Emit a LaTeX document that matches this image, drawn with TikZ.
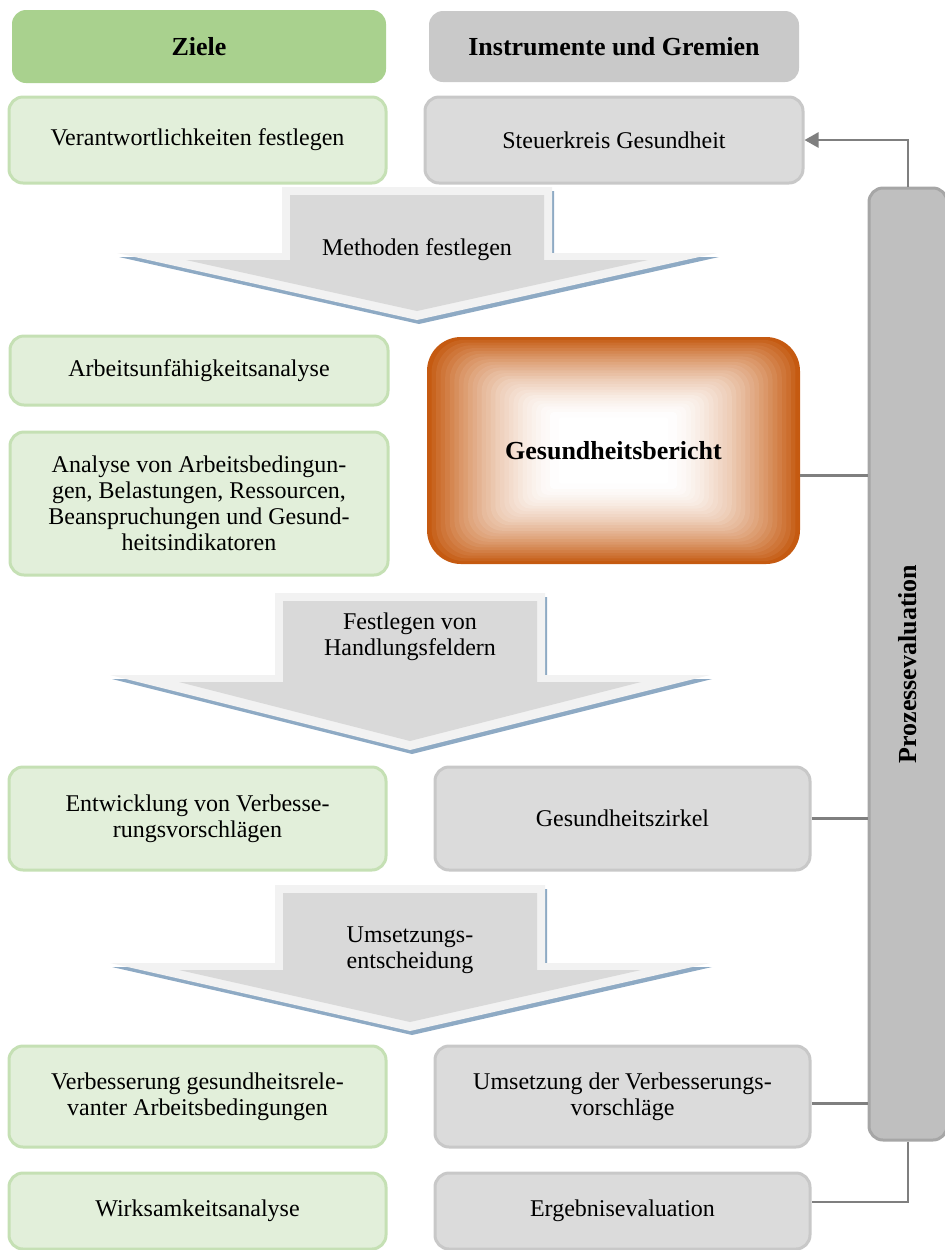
\documentclass[tikz,border=0pt]{standalone}
\usepackage{fontspec}
\setmainfont{Liberation Serif}
\usetikzlibrary{arrows.meta}

\definecolor{zielgruen}{HTML}{A9D18E}
\definecolor{hellgruen}{HTML}{E2EFDA}
\definecolor{randgruen}{HTML}{C5E0B4}
\definecolor{kopfgrau}{HTML}{C9C9C9}
\definecolor{hellgrau}{HTML}{DBDBDB}
\definecolor{randgrau}{HTML}{C8C8C8}
\definecolor{prozgrau}{HTML}{BFBFBF}
\definecolor{prozrand}{HTML}{A6A6A6}
\definecolor{linie}{HTML}{7F7F7F}
\definecolor{pfeilgrau}{HTML}{D9D9D9}
\definecolor{pfeilhell}{HTML}{F2F2F2}
\definecolor{pfeilblau}{HTML}{8EAAC4}
\definecolor{orangeD}{HTML}{C55A11}

\tikzset{
  kopf/.style={rounded corners=7pt, inner sep=2pt, font=\fontsize{13}{15}\selectfont\bfseries},
  gruen/.style={draw=randgruen, fill=hellgruen, line width=1.5pt, rounded corners=7pt,
    align=center, font=\fontsize{12}{13}\selectfont, minimum width=188.5pt},
  grau/.style={draw=randgrau, fill=hellgrau, line width=1.5pt, rounded corners=7pt,
    align=center, font=\fontsize{12}{13}\selectfont, minimum width=187.5pt},
  prozbox/.style={draw=prozrand, fill=prozgrau, line width=1.5pt, rounded corners=7pt},
  pfeiltext/.style={align=center, font=\fontsize{12}{13}\selectfont},
  verbindung/.style={draw=linie, line width=1.3pt},
}

\begin{document}
\begin{tikzpicture}[x=0.5pt, y=-0.5pt]
\useasboundingbox (0,0) rectangle (945,1250);

% Kopfzeile
\node[kopf, fill=zielgruen, minimum width=187pt, minimum height=36.5pt] (ziele) at (199,46.5) {Ziele};
\node[kopf, fill=kopfgrau, minimum width=185pt, minimum height=35.5pt] (instr) at (614,46.5) {Instrumente und Gremien};

\node[gruen, minimum height=43pt] (verant) at (197.5,140) {Verantwortlichkeiten festlegen};
\node[grau, minimum width=189pt, minimum height=43pt] (steuer) at (614,140) {\raisebox{-5pt}{Steuerkreis Gesundheit}};

% Blockpfeile
\foreach \n/\cx/\top/\wing/\tip/\ty/\lab in {1/417/187/253/320/250/Methoden festlegen,
    2/410/593/675/750/637/Festlegen von\\Handlungsfeldern,
    3/410/885/963/1031/950/Umsetzungs-\\entscheidung}{
  \fill[pfeilblau, shift={(2,4)}] (\cx-135,\top) -- (\cx+135,\top) -- (\cx+135,\wing) -- (\cx+300,\wing)
    -- (\cx,\tip) -- (\cx-300,\wing) -- (\cx-135,\wing) -- cycle;
  \fill[pfeilhell] (\cx-135,\top) -- (\cx+135,\top) -- (\cx+135,\wing) -- (\cx+300,\wing)
    -- (\cx,\tip) -- (\cx-300,\wing) -- (\cx-135,\wing) -- cycle;
  \fill[pfeilgrau] (\cx-127,\top+8) -- (\cx+127,\top+8) -- (\cx+127,\wing+7) -- (\cx+231,\wing+7)
    -- (\cx,\tip-9) -- (\cx-231,\wing+7) -- (\cx-127,\wing+7) -- cycle;
  \node[pfeiltext] (pfeil\n) at (\cx,\ty) {\lab};
}

\node[gruen, minimum width=189pt, minimum height=34.5pt] (aua) at (199,370.5) {Arbeitsunfähigkeitsanalyse};
\node[gruen, minimum width=189pt, minimum height=71.5pt] (analyse) at (199,503.5)
  {Analyse von Arbeitsbedingun-\\gen, Belastungen, Ressourcen,\\Beanspruchungen und Gesund-\\heitsindikatoren};

% Gesundheitsbericht mit Verlauf zur Mitte
\foreach \i in {0,...,29}{
  \pgfmathtruncatemacro\pct{100*(1-\i/30)^1.7}
  \pgfmathsetmacro\rc{max(17-\i*0.55,1)}
  \fill[orangeD!\pct!white, rounded corners=\rc pt] (427+\i*4.55,337+\i*2.77) rectangle (800-\i*4.55,564-\i*2.77);
}
\node[minimum width=186.5pt, minimum height=113.5pt, font=\fontsize{13}{15}\selectfont\bfseries] (bericht) at (613.5,450.5) {Gesundheitsbericht};

\node[gruen, minimum height=51.5pt] (entw) at (197.5,818.5) {Entwicklung von Verbesse-\\rungsvorschlägen};
\node[grau, minimum height=51.5pt] (zirkel) at (622.5,818.5) {Gesundheitszirkel};

\node[gruen, minimum height=50.5pt] (verb) at (197.5,1096.5) {Verbesserung gesundheitsrele-\\vanter Arbeitsbedingungen};
\node[grau, minimum height=50.5pt] (umsetz) at (622.5,1096.5) {Umsetzung der Verbesserungs-\\vorschläge};

\node[gruen, minimum height=38pt] (wirk) at (197.5,1211) {\raisebox{3pt}{Wirksamkeitsanalyse}};
\node[grau, minimum height=38pt] (ergeb) at (622.5,1211) {\raisebox{-1pt}{Ergebnisevaluation}};

% Prozessevaluation
\node[prozbox, minimum width=39pt, minimum height=476pt] (prozess) at (908,664) {};
\node[rotate=90, font=\fontsize{13}{15}\selectfont\bfseries] (prozlabel) at (prozess.center) {Prozessevaluation};

\draw[verbindung, -{Triangle[length=7pt, width=7.5pt]}] (prozess.north) |- (steuer.east);
\draw[verbindung] ([yshift=-12.5pt]bericht.east) -- ([yshift=-12.5pt]bericht.east -| prozess.west);
\draw[verbindung] (zirkel.east) -- (zirkel.east -| prozess.west);
\draw[verbindung] ([yshift=-3.5pt]umsetz.east) -- ([yshift=-3.5pt]umsetz.east -| prozess.west);
\draw[verbindung] (prozess.south) |- ([yshift=4.5pt]ergeb.east);
\end{tikzpicture}
\end{document}
